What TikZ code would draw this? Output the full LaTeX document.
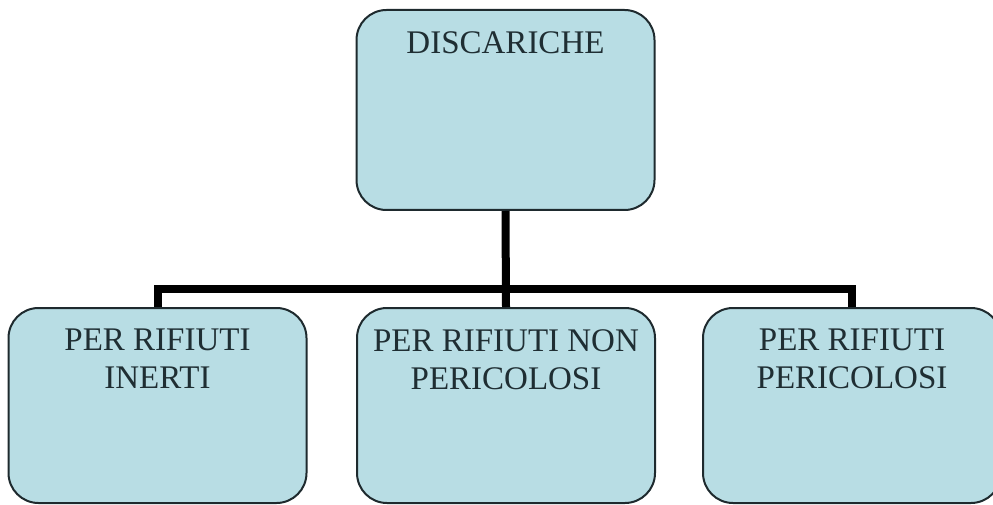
\documentclass[tikz,border=0pt]{standalone}
\usepackage{fontspec}
\setmainfont{Liberation Serif}
\definecolor{boxfill}{HTML}{B8DDE4}
\definecolor{boxline}{HTML}{1E2A2E}
\definecolor{txt}{HTML}{1F2E33}
\begin{document}
\begin{tikzpicture}[x=1pt,y=-1pt,
  box/.style={draw=boxline, line width=2pt, fill=boxfill, rounded corners=30pt,
    minimum width=298pt, inner sep=0pt},
  label/.style={anchor=north, inner sep=0pt, align=center, text=txt,
    font=\fontsize{33}{38}\selectfont},
  conn/.style={line width=8pt, black, line join=miter}]
\useasboundingbox (0,0) rectangle (993,505);
\clip (0,0) rectangle (993,505);
% boxes
\node[box, minimum height=200pt] (top) at (505.5,110) {};
\node[box, minimum height=195pt] (l) at (157.5,405.5) {};
\node[box, minimum height=195pt] (m) at (506,405.5) {};
\node[box, minimum height=195pt] (r) at (852,405.5) {};
% connectors
\coordinate (j) at (506,288.5);
\draw[conn] (top.south) -- (m.north);
\draw[conn] (l.north) -- (l.north |- j) -- (r.north |- j) -- (r.north);
% texts
\node[label] (tt) at ([yshift=-22pt]top.north) {DISCARICHE};
\node[label] (tl) at ([yshift=-22pt]l.north) {PER RIFIUTI\\INERTI};
\node[label] (tm) at ([yshift=-22pt]m.north) {PER RIFIUTI NON\\PERICOLOSI};
\node[label] (tr) at ([yshift=-22pt]r.north) {PER RIFIUTI\\PERICOLOSI};
\end{tikzpicture}
\end{document}
